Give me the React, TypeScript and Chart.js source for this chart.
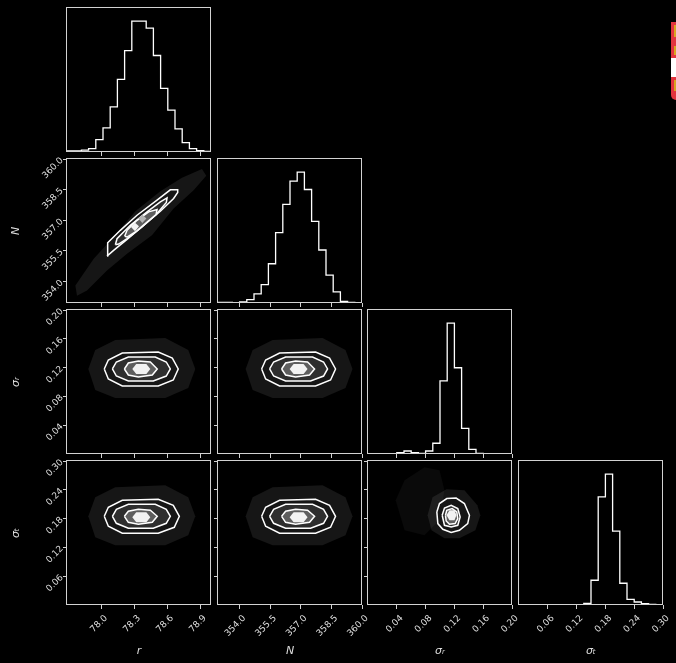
import React, { useEffect, useRef } from 'react';
import { Chart, registerables } from 'chart.js';

Chart.register(...registerables);

// ---------------- data ----------------
const R_RANGE = [77.69, 79.0];
const N_RANGE = [352.95, 360.0];
const SR_RANGE = [0.0, 0.2];
const ST_RANGE = [0.0, 0.3];

const R_TICKS = [78.0, 78.3, 78.6, 78.9];
const R_TICK_LABELS = ['78.0', '78.3', '78.6', '78.9'];
const N_TICKS = [354.0, 355.5, 357.0, 358.5, 360.0];
const N_TICK_LABELS = ['354.0', '355.5', '357.0', '358.5', '360.0'];
const SR_TICKS = [0.04, 0.08, 0.12, 0.16, 0.2];
const SR_TICK_LABELS = ['0.04', '0.08', '0.12', '0.16', '0.20'];
const ST_TICKS = [0.06, 0.12, 0.18, 0.24, 0.3];
const ST_TICK_LABELS = ['0.06', '0.12', '0.18', '0.24', '0.30'];

const AXIS_TITLES = ['r', 'N', 'σᵣ', 'σₜ'];

// 1-D marginal histograms (20 bins over each axis range, relative counts)
const R_HIST = [8, 8, 15, 26, 95, 184, 345, 555, 775, 1000, 1000, 946, 737, 486, 320, 176, 72, 26, 10, 5];
const N_HIST = [5, 5, 1, 8, 26, 69, 141, 300, 538, 754, 931, 1000, 867, 623, 405, 213, 85, 13, 5, 2];
const SR_HIST = [0, 0, 0, 0, 10, 23, 10, 5, 23, 82, 559, 1000, 659, 195, 36, 5, 0, 0, 0, 0];
const ST_HIST = [0, 0, 0, 0, 0, 0, 0, 0, 0, 13, 189, 826, 1000, 565, 166, 43, 23, 10, 5, 3];

// 2-D panels: sample cloud outline, contour levels and density core
const R_N_HALO = [[77.766, 353.803], [77.933, 355.114], [78.114, 356.18], [78.312, 357.442], [78.539, 358.426], [78.736, 359.082], [78.918, 359.508], [78.957, 359.18], [78.842, 358.475], [78.66, 357.574], [78.463, 356.262], [78.236, 355.36], [78.054, 354.54], [77.872, 353.557], [77.781, 353.311]];
const R_N_OUTER = [[78.054, 355.245], [78.06, 355.9], [78.175, 356.508], [78.327, 357.246], [78.509, 357.983], [78.63, 358.492], [78.697, 358.492], [78.697, 358.36], [78.66, 358.065], [78.539, 357.442], [78.387, 356.754], [78.236, 356.065], [78.114, 355.524]];
const R_N_MID = [[78.13, 355.803], [78.145, 356.098], [78.266, 356.754], [78.418, 357.41], [78.539, 357.901], [78.6, 358.098], [78.594, 357.869], [78.509, 357.328], [78.372, 356.672], [78.236, 356.098], [78.16, 355.836]];
const R_N_INNER = [[78.215, 356.213], [78.236, 356.508], [78.327, 357.0], [78.433, 357.41], [78.509, 357.524], [78.5, 357.278], [78.418, 356.918], [78.312, 356.426], [78.236, 356.18]];
const R_N_CORE2 = [[78.339, 357.082], [78.375, 357.278], [78.412, 357.082], [78.375, 356.869]];
const R_N_CORE = [[78.272, 356.672], [78.309, 356.885], [78.345, 356.705], [78.309, 356.459]];

const R_SR_HALO = [[77.884, 0.1181], [77.947, 0.1444], [78.129, 0.1583], [78.584, 0.1611], [78.793, 0.1444], [78.857, 0.1181], [78.793, 0.0917], [78.584, 0.0778], [78.129, 0.0778], [77.947, 0.0889]];
const R_SR_OUTER = [[78.029, 0.1181], [78.066, 0.1306], [78.193, 0.1403], [78.52, 0.1417], [78.648, 0.1333], [78.702, 0.1181], [78.657, 0.1028], [78.52, 0.0944], [78.193, 0.0944], [78.066, 0.1042]];
const R_SR_MID = [[78.103, 0.1181], [78.139, 0.1278], [78.248, 0.1347], [78.493, 0.1347], [78.593, 0.1278], [78.63, 0.1181], [78.593, 0.1083], [78.475, 0.1014], [78.248, 0.1014], [78.139, 0.1083]];
const R_SR_INNER = [[78.212, 0.1181], [78.248, 0.1264], [78.339, 0.1292], [78.448, 0.1278], [78.511, 0.1181], [78.466, 0.1097], [78.339, 0.1069], [78.248, 0.1097]];
const R_SR_CORE = [[78.284, 0.1181], [78.32, 0.125], [78.412, 0.125], [78.448, 0.1181], [78.412, 0.1111], [78.32, 0.1111]];

const N_SR_HALO = [[354.304, 0.1181], [354.646, 0.1444], [355.624, 0.1583], [358.069, 0.1611], [359.193, 0.1444], [359.535, 0.1181], [359.193, 0.0917], [358.069, 0.0778], [355.624, 0.0778], [354.646, 0.0889]];
const N_SR_OUTER = [[355.086, 0.1181], [355.282, 0.1306], [355.966, 0.1403], [357.727, 0.1417], [358.412, 0.1333], [358.705, 0.1181], [358.461, 0.1028], [357.727, 0.0944], [355.966, 0.0944], [355.282, 0.1042]];
const N_SR_MID = [[355.477, 0.1181], [355.673, 0.1278], [356.26, 0.1347], [357.58, 0.1347], [358.118, 0.1278], [358.314, 0.1181], [358.118, 0.1083], [357.482, 0.1014], [356.26, 0.1014], [355.673, 0.1083]];
const N_SR_INNER = [[356.064, 0.1181], [356.26, 0.1264], [356.749, 0.1292], [357.335, 0.1278], [357.678, 0.1181], [357.433, 0.1097], [356.749, 0.1069], [356.26, 0.1097]];
const N_SR_CORE = [[356.456, 0.1181], [356.651, 0.125], [357.14, 0.125], [357.335, 0.1181], [357.14, 0.1111], [356.651, 0.1111]];

const R_ST_HALO = [[77.884, 0.1848], [77.947, 0.2244], [78.129, 0.2452], [78.584, 0.2494], [78.793, 0.2244], [78.857, 0.1848], [78.793, 0.1452], [78.584, 0.1244], [78.129, 0.1244], [77.947, 0.1411]];
const R_ST_OUTER = [[78.029, 0.1848], [78.066, 0.2036], [78.193, 0.2181], [78.52, 0.2202], [78.657, 0.2077], [78.712, 0.1848], [78.666, 0.1619], [78.52, 0.1494], [78.193, 0.1494], [78.066, 0.164]];
const R_ST_MID = [[78.103, 0.1848], [78.139, 0.1994], [78.248, 0.2098], [78.493, 0.2098], [78.593, 0.1994], [78.63, 0.1848], [78.593, 0.1702], [78.475, 0.1598], [78.248, 0.1598], [78.139, 0.1702]];
const R_ST_INNER = [[78.212, 0.1848], [78.248, 0.1952], [78.339, 0.1994], [78.448, 0.1973], [78.511, 0.1848], [78.466, 0.1723], [78.339, 0.1681], [78.248, 0.1723]];
const R_ST_CORE = [[78.284, 0.1827], [78.32, 0.1931], [78.412, 0.1931], [78.448, 0.1827], [78.412, 0.1723], [78.32, 0.1723]];

const N_ST_HALO = [[354.304, 0.1848], [354.646, 0.2244], [355.624, 0.2452], [358.069, 0.2494], [359.193, 0.2244], [359.535, 0.1848], [359.193, 0.1452], [358.069, 0.1244], [355.624, 0.1244], [354.646, 0.1411]];
const N_ST_OUTER = [[355.086, 0.1848], [355.282, 0.2036], [355.966, 0.2181], [357.727, 0.2202], [358.412, 0.2077], [358.705, 0.1848], [358.461, 0.1619], [357.727, 0.1494], [355.966, 0.1494], [355.282, 0.164]];
const N_ST_MID = [[355.477, 0.1848], [355.673, 0.1994], [356.26, 0.2098], [357.58, 0.2098], [358.118, 0.1994], [358.314, 0.1848], [358.118, 0.1702], [357.482, 0.1598], [356.26, 0.1598], [355.673, 0.1702]];
const N_ST_INNER = [[356.064, 0.1848], [356.26, 0.1952], [356.749, 0.1994], [357.335, 0.1973], [357.678, 0.1848], [357.433, 0.1723], [356.749, 0.1681], [356.26, 0.1723]];
const N_ST_CORE = [[356.456, 0.1827], [356.651, 0.1931], [357.14, 0.1931], [357.335, 0.1827], [357.14, 0.1723], [356.651, 0.1723]];

const SR_ST_HALO2 = [[0.0384, 0.2181], [0.0508, 0.2598], [0.0785, 0.2869], [0.0993, 0.2806], [0.1062, 0.239], [0.0993, 0.1765], [0.0785, 0.1452], [0.0508, 0.1556]];
const SR_ST_HALO = [[0.0827, 0.1869], [0.0896, 0.2244], [0.109, 0.241], [0.1339, 0.239], [0.1519, 0.2077], [0.1561, 0.1869], [0.1492, 0.1556], [0.127, 0.139], [0.1062, 0.139], [0.0882, 0.1556]];
const SR_ST_OUTER = [[0.0956, 0.1938], [0.0993, 0.2113], [0.1094, 0.2217], [0.1224, 0.2229], [0.1339, 0.2113], [0.1409, 0.1869], [0.1385, 0.1696], [0.127, 0.1556], [0.1155, 0.1509], [0.1039, 0.1577], [0.097, 0.1696]];
const SR_ST_MID = [[0.103, 0.1869], [0.1062, 0.2021], [0.1155, 0.2077], [0.1247, 0.2008], [0.128, 0.1833], [0.1247, 0.1661], [0.1155, 0.1625], [0.1062, 0.1661]];
const SR_ST_INNER = [[0.1076, 0.1869], [0.1094, 0.1973], [0.1169, 0.2008], [0.1233, 0.1938], [0.1247, 0.18], [0.121, 0.1696], [0.1132, 0.1681], [0.1086, 0.175]];
const SR_ST_CORE = [[0.109, 0.1869], [0.1132, 0.1973], [0.1201, 0.1973], [0.1229, 0.1869], [0.1201, 0.1765], [0.1132, 0.1765]];

// ---------------- styling / layout ----------------
const PAGE_W = 676;
const PAGE_H = 663;
const PANEL = 144;
const COL_LEFT = [67, 218, 368, 519];
const ROW_TOP = [8, 159, 310, 461];
const LINE = '#d2d2d2';
const TEXT = '#dedede';
const FONT = 'DejaVu Sans';

const HALO = 'rgba(255,255,255,0.085)';
const HALO_FAINT = 'rgba(255,255,255,0.04)';
const F_OUTER = '#161616';
const F_MID = '#2e2e2e';
const F_INNER = '#5e5e5e';
const F_CORE2 = '#b4b4b4';
const F_CORE = '#f2f2f2';

type AxisDef = { range: number[]; ticks: number[]; labels: string[]; title: string };
const AXES: AxisDef[] = [
  { range: R_RANGE, ticks: R_TICKS, labels: R_TICK_LABELS, title: AXIS_TITLES[0] },
  { range: N_RANGE, ticks: N_TICKS, labels: N_TICK_LABELS, title: AXIS_TITLES[1] },
  { range: SR_RANGE, ticks: SR_TICKS, labels: SR_TICK_LABELS, title: AXIS_TITLES[2] },
  { range: ST_RANGE, ticks: ST_TICKS, labels: ST_TICK_LABELS, title: AXIS_TITLES[3] },
];

type Layer = { pts: number[][]; fill: string; stroke?: boolean };
type PanelSpec = { row: number; col: number; hist?: number[]; layers?: Layer[] };

const contourSet = (halo: number[][], outer: number[][], mid: number[][], inner: number[][], cores: number[][][], coreFills: string[]): Layer[] => [
  { pts: halo, fill: HALO },
  { pts: outer, fill: F_OUTER, stroke: true },
  { pts: mid, fill: F_MID, stroke: true },
  { pts: inner, fill: F_INNER, stroke: true },
  ...cores.map((c, i) => ({ pts: c, fill: coreFills[i] })),
];

const PANELS: PanelSpec[] = [
  { row: 0, col: 0, hist: R_HIST },
  { row: 1, col: 1, hist: N_HIST },
  { row: 2, col: 2, hist: SR_HIST },
  { row: 3, col: 3, hist: ST_HIST },
  { row: 1, col: 0, layers: contourSet(R_N_HALO, R_N_OUTER, R_N_MID, R_N_INNER, [R_N_CORE2, R_N_CORE], [F_CORE2, F_CORE]) },
  { row: 2, col: 0, layers: contourSet(R_SR_HALO, R_SR_OUTER, R_SR_MID, R_SR_INNER, [R_SR_CORE], [F_CORE]) },
  { row: 2, col: 1, layers: contourSet(N_SR_HALO, N_SR_OUTER, N_SR_MID, N_SR_INNER, [N_SR_CORE], [F_CORE]) },
  { row: 3, col: 0, layers: contourSet(R_ST_HALO, R_ST_OUTER, R_ST_MID, R_ST_INNER, [R_ST_CORE], [F_CORE]) },
  { row: 3, col: 1, layers: contourSet(N_ST_HALO, N_ST_OUTER, N_ST_MID, N_ST_INNER, [N_ST_CORE], [F_CORE]) },
  {
    row: 3, col: 2,
    layers: [{ pts: SR_ST_HALO2, fill: HALO_FAINT }, ...contourSet(SR_ST_HALO, SR_ST_OUTER, SR_ST_MID, SR_ST_INNER, [SR_ST_CORE], [F_CORE])],
  },
];

const framePlugin = {
  id: 'frame',
  afterDraw(chart: any) {
    const { ctx, chartArea } = chart;
    ctx.save();
    ctx.strokeStyle = LINE;
    ctx.lineWidth = 1;
    ctx.strokeRect(chartArea.left - 0.5, chartArea.top - 0.5, chartArea.right - chartArea.left, chartArea.bottom - chartArea.top);
    ctx.restore();
  },
};

function histPoints(counts: number[], range: number[]) {
  const n = counts.length;
  const w = (range[1] - range[0]) / n;
  const pts: { x: number; y: number }[] = [{ x: range[0], y: 0 }];
  counts.forEach((c, i) => {
    pts.push({ x: range[0] + i * w, y: c });
    pts.push({ x: range[0] + (i + 1) * w, y: c });
  });
  pts.push({ x: range[1], y: 0 });
  return pts;
}

function closed(pts: number[][]) {
  const d = pts.map(([x, y]) => ({ x, y }));
  d.push({ x: pts[0][0], y: pts[0][1] });
  return d;
}

function Panel({ spec }: { spec: PanelSpec }) {
  const ref = useRef<HTMLCanvasElement>(null);
  const { row, col } = spec;
  const ML = col === 0 ? COL_LEFT[0] : 8;
  const MB = row === 3 ? PAGE_H - ROW_TOP[3] - PANEL : 8;
  const MT = 4;
  const MR = 10;
  const W = ML + PANEL + MR;
  const H = MT + PANEL + MB;

  useEffect(() => {
    const xA = AXES[col];
    const yA = AXES[row];
    const isHist = !!spec.hist;
    const showX = row === 3;
    const showY = col === 0 && !isHist;

    let datasets: any[] = [];
    if (spec.hist) {
      datasets = [{
        data: histPoints(spec.hist, xA.range),
        borderColor: '#ffffff', borderWidth: 1.3, pointRadius: 0, fill: false, tension: 0,
      }];
    } else if (spec.layers) {
      const L = spec.layers.length;
      datasets = spec.layers.map((l, i) => ({
        data: closed(l.pts),
        fill: 'shape',
        backgroundColor: l.fill,
        borderColor: l.stroke ? '#ffffff' : 'rgba(0,0,0,0)',
        borderWidth: l.stroke ? 1.5 : 0,
        pointRadius: 0,
        tension: 0,
        order: L - i,
      }));
    }

    const gridOpts = { display: true, drawOnChartArea: false, drawTicks: true, tickLength: 4, color: LINE, lineWidth: 1 };

    const chart = new Chart(ref.current as HTMLCanvasElement, {
      type: 'line',
      data: { datasets },
      options: {
        animation: false,
        responsive: false,
        events: [],
        layout: { padding: { left: isHist ? ML : 0, top: MT, right: MR, bottom: 0 } },
        plugins: { legend: { display: false }, tooltip: { enabled: false } },
        scales: {
          x: {
            type: 'linear', position: 'bottom', min: xA.range[0], max: xA.range[1], bounds: 'data',
            afterBuildTicks: (s: any) => { s.ticks = xA.ticks.map((v) => ({ value: v })); },
            afterFit: (s: any) => { s.height = MB; s.paddingLeft = 0; s.paddingRight = 0; s.paddingTop = 0; s.paddingBottom = 0; },
            ticks: {
              display: showX, minRotation: 45, maxRotation: 45, autoSkip: false, color: TEXT,
              font: { family: FONT, size: 9 }, padding: 4, labelOffset: 5,
              callback: (_v: any, i: number) => xA.labels[i],
            },
            grid: gridOpts,
            border: { display: false },
            title: {
              display: showX, text: xA.title, color: TEXT,
              font: { family: FONT, size: 11, style: 'italic' }, padding: { top: 0, bottom: 5 },
            },
          },
          y: isHist
            ? { type: 'linear', display: false, min: 0, max: 1100 }
            : {
              type: 'linear', position: 'left', min: yA.range[0], max: yA.range[1], bounds: 'data',
              afterBuildTicks: (s: any) => { s.ticks = yA.ticks.map((v) => ({ value: v })); },
              afterFit: (s: any) => { s.width = ML; s.paddingLeft = 0; s.paddingRight = 0; s.paddingTop = 0; s.paddingBottom = 0; },
              ticks: {
                display: showY, minRotation: 45, maxRotation: 45, autoSkip: false, color: TEXT,
                font: { family: FONT, size: 9 }, padding: 1,
                callback: (_v: any, i: number) => yA.labels[i],
              },
              grid: gridOpts,
              border: { display: false },
              title: {
                display: showY, text: yA.title, color: TEXT,
                font: { family: FONT, size: 11, style: 'italic' }, padding: { top: 10, bottom: 0 },
              },
            },
        },
      } as any,
      plugins: [framePlugin],
    });
    return () => chart.destroy();
  }, []);

  return (
    <canvas
      ref={ref}
      width={W}
      height={H}
      style={{ position: 'absolute', left: COL_LEFT[col] - ML, top: ROW_TOP[row] - MT, width: W, height: H }}
    />
  );
}

export default function App() {
  useEffect(() => {
    document.body.style.margin = '0';
    document.body.style.background = '#000';
  }, []);
  return (
    <div style={{ position: 'absolute', left: 0, top: 0, width: PAGE_W, height: PAGE_H, background: '#000', overflow: 'hidden' }}>
      {PANELS.map((p, i) => <Panel key={i} spec={p} />)}
      <div style={{ position: 'absolute', left: 671, top: 22, width: 5, height: 78, background: '#e2343e', borderBottomLeftRadius: 6, overflow: 'hidden' }}>
        <div style={{ position: 'absolute', left: 3, top: 3, width: 2, height: 12, background: '#d9a520' }} />
        <div style={{ position: 'absolute', left: 3, top: 24, width: 2, height: 9, background: '#d9a520' }} />
        <div style={{ position: 'absolute', left: 0, top: 36, width: 5, height: 19, background: '#ffffff' }} />
        <div style={{ position: 'absolute', left: 3, top: 58, width: 2, height: 11, background: '#d9a520' }} />
      </div>
    </div>
  );
}
